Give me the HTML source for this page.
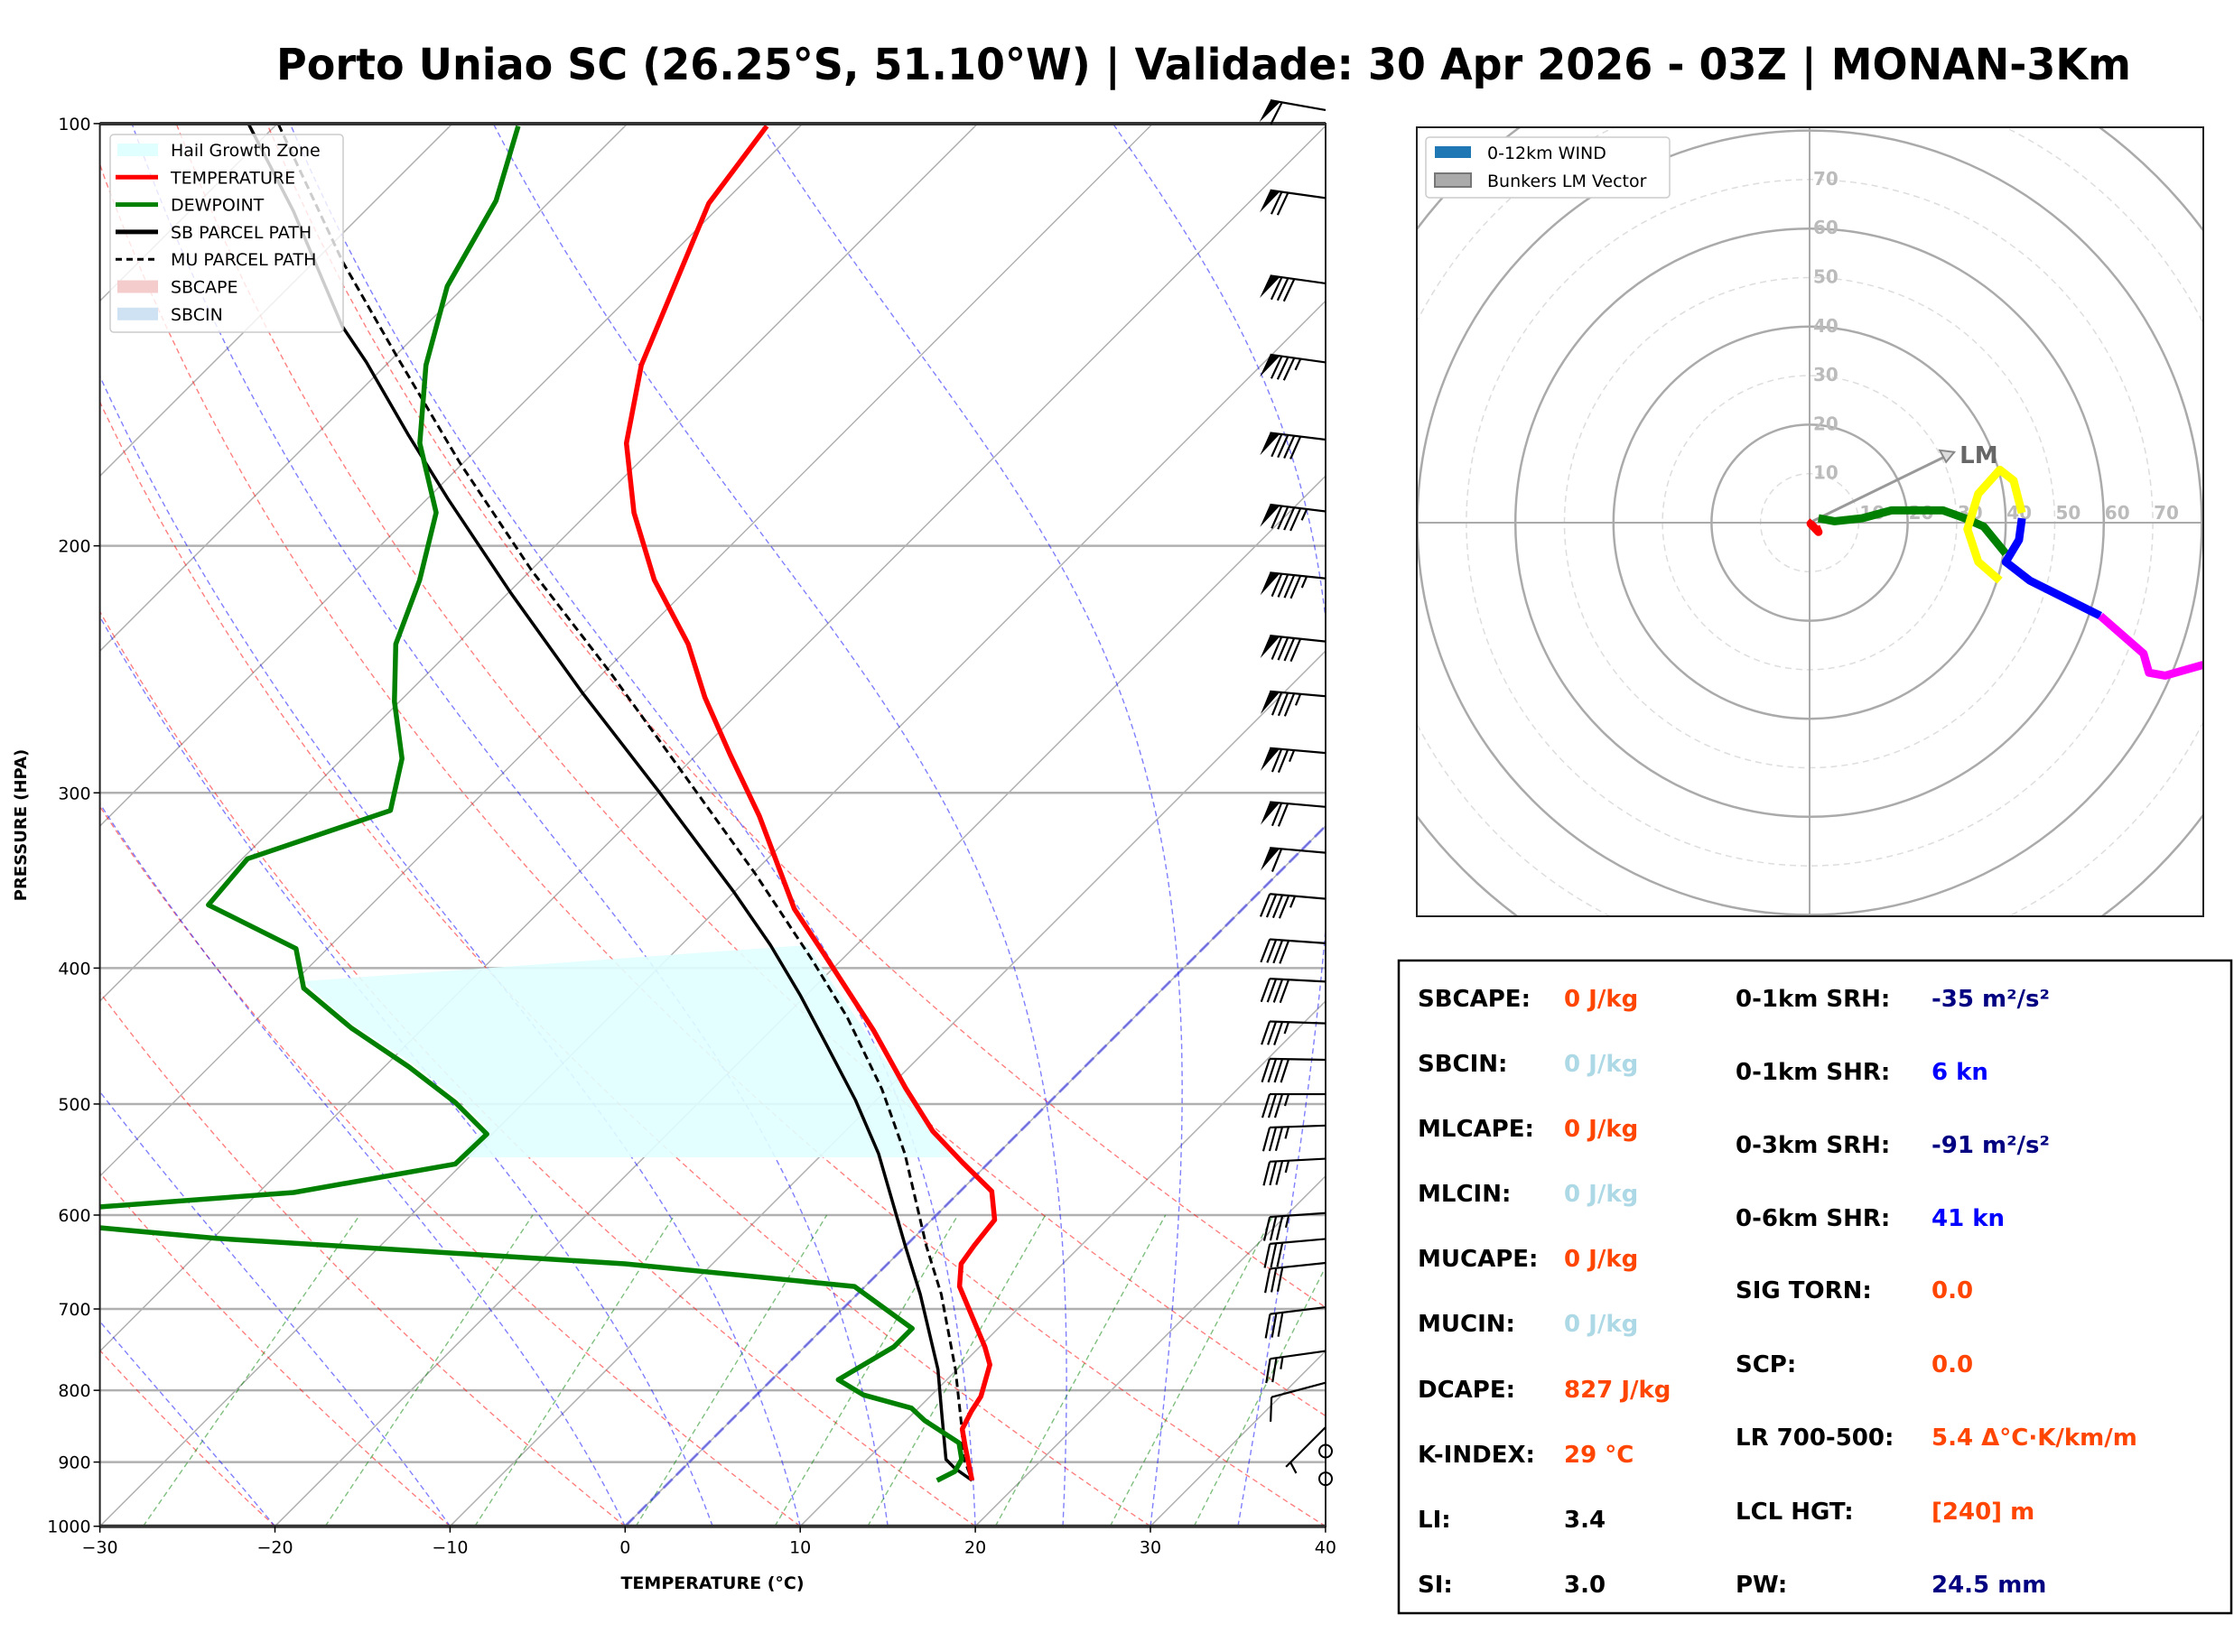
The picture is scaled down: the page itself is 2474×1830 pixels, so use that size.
<!DOCTYPE html>
<html><head><meta charset="utf-8">
<style>
html,body{margin:0;padding:0;background:#fff;}
svg{display:block;font-family:"DejaVu Sans","Liberation Sans",sans-serif;}
</style></head>
<body>
<svg id="root" width="2474" height="1830" viewBox="0 0 2474 1830" xmlns="http://www.w3.org/2000/svg">
<rect width="2474" height="1830" fill="#fff"/>
<text x="1333" y="88" text-anchor="middle" font-size="48" font-weight="bold" textLength="2054" lengthAdjust="spacingAndGlyphs">Porto Uniao SC (26.25°S, 51.10°W) | Validade: 30 Apr 2026 - 03Z | MONAN-3Km</text>
<defs>
<clipPath id="skclip"><rect x="110.6" y="137" width="1357.4" height="1553.7"/></clipPath>
<clipPath id="hodoclip"><rect x="1569" y="141" width="871" height="874"/></clipPath>
</defs>
<g id="skew"></g>
<g id="hodo"></g>
<g id="stats"></g>
</svg>
<script>
// ---------- DATA ----------
const tempP = [100.4,114,148.7,169,189.4,211.5,235,256.5,281.7,311.7,363,389.7,443.4,487.2,522.8,550.5,577,604.7,630.8,650,674.6,745,767,808,827.6,852.5,878,927.6];
const tempT = [-71.9,-70.8,-65.4,-61.8,-57.4,-52.4,-46.8,-42.8,-38.1,-32.9,-25.6,-21.5,-14.1,-9.0,-5.0,-1.5,1.8,3.6,3.9,4.2,5.4,10.3,11.6,12.9,13.2,13.7,14.9,17.2];
const dewP = [100.4,113.5,130.6,148.7,169,189.4,211.5,235,258.2,283.6,308.8,334.3,360.6,387.4,413.4,441.4,470.4,498.8,525.3,551.7,578.2,592,600,612.6,623.4,650,674.6,722.8,744.6,786.2,806,823.7,840.5,872,896,914,927.6];
const dewT = [-86.1,-83.1,-81.0,-77.7,-73.6,-68.7,-65.8,-63.5,-60.3,-56.6,-54.3,-59.7,-59.3,-51.8,-49.1,-44.1,-38.6,-33.9,-30.3,-30.4,-38.0,-48.2,-55,-47.1,-39.8,-15.0,-0.6,5.1,5.1,3.8,6.1,9.6,11.05,14.3,15.4,15.7,15.2];
const sbP = [100.1,115.4,139.5,147.9,166.5,185.2,215.9,254.8,300.6,352.6,385.2,418.5,454.6,496.7,542.6,631.4,683.3,772.9,827.9,896,909,927.6];
const sbT = [-101.6,-94.1,-84.7,-81.3,-74.8,-68.8,-59.9,-50.0,-39.8,-30.1,-24.9,-20.3,-15.9,-11.2,-6.8,0.0,3.6,8.9,11.5,14.5,15.5,17.2];
const muP = [100.1,125.4,146.2,174.5,208.4,245.9,290.1,342.3,394.5,433.6,488,542.6,631.4,683.3,772.9,852.9,891.5,927.6];
const muT = [-99.9,-88.4,-80.0,-70.2,-59.9,-49.7,-39.8,-29.9,-21.7,-16.4,-10.3,-5.3,1.2,4.8,9.9,13.7,15.3,17.2];
const barbP = [97.8,113,130,148,168,189,211,234,256,281,307,331,357,384,409,438,465,492,518,547,598,624,649,698,750,790,850];
const barbSpd = [60,70,80,85,90,95,95,90,85,75,70,60,45,40,40,35,40,35,35,35,35,30,30,30,25,10,5];
const barbDir = [280,278,278,278,277,277,276,276,275,275,275,275,275,274,273,272,271,270,268,267,266,265,264,263,262,255,225];
const calmP = [884,925];
const xTicks = [-30,-20,-10,0,10,20,30,40];
const yTicks = [100,200,300,400,500,600,700,800,900,1000];
const hodoRedU=[0.7,0.2,1.8,1.3], hodoRedV=[0.3,-0.2,-1.9,-0.8];
const hodoGreenU=[1.8,5.1,10.7,16.7,27.2,31.7,35.5,40], hodoGreenV=[0.9,0.3,0.9,2.5,2.5,0.9,-0.8,-6.3];
const hodoYellowU=[38.8,34.4,32.2,34.4,38.8,41.6,43.3], hodoYellowV=[-11.8,-8,-1.3,5.9,10.8,8.6,2];
const hodoBlueU=[43.3,42.7,40,44.9,59.3], hodoBlueV=[0.9,-3.5,-8,-11.8,-19];
const hodoMagU=[59.3,68.1,69.2,72.5,80.3], hodoMagV=[-19,-26.7,-30.6,-31.2,-29];
const lmU=29.5, lmV=14.4;
const ringVals=[10,20,30,40,50,60,70,80,90,100];

// ---------- helpers ----------
const NS="http://www.w3.org/2000/svg";
function mk(tag, attrs, parent){const e=document.createElementNS(NS,tag);for(const k in attrs)e.setAttribute(k,attrs[k]);parent.appendChild(e);return e;}
const Y0=1690.7, PPL=674.8, X0=110.6, SX=19.39, XR=1468, YT=137;
function yP(p){return Y0-PPL*Math.log(1000/p);}
function xT(T,p){return X0+(T+30)*SX+(Y0-yP(p));}
function pathPT(P,T){return P.map((p,i)=>(i?'L':'M')+xT(T[i],p).toFixed(1)+','+yP(p).toFixed(1)).join(' ');}

const skew=document.getElementById('skew');
const bg=mk('g',{'clip-path':'url(#skclip)'},skew);



yTicks.forEach(p=>{const l=mk('line',{x1:X0,x2:XR,y1:yP(p),y2:yP(p),stroke:'#b0b0b0','stroke-width':2.5},bg);

});
for(let T=-160;T<=40;T+=10){const l=mk('line',{x1:xT(T,1000),y1:yP(1000),x2:xT(T,100),y2:yP(100),stroke:'#b0b0b0','stroke-width':1.5},bg);

}
const plist=[];for(let p=1000;p>=100;p-=10)plist.push(p);
for(let t0=-30;t0<=60;t0+=10){const d=plist.map((p,i)=>(i?'L':'M')+xT((t0+273.15)*Math.pow(p/1000,0.2857)-273.15,p).toFixed(1)+','+yP(p).toFixed(1)).join(' ');
const e=mk('path',{d:d,fill:'none',stroke:'#ff0000','stroke-opacity':0.5,'stroke-width':1.4,'stroke-dasharray':'6,4'},bg);

}
function es(Tc){return 6.112*Math.exp(17.67*Tc/(Tc+243.5));}
function dTdlnp(Tk,p){const rs=0.622*es(Tk-273.15)/(p-es(Tk-273.15));return (287.04*Tk+2.501e6*rs)/(1005.7+2.501e6*2.501e6*rs*0.622/(287.04*Tk*Tk));}
[-20,-10,0,5,10,15,20,25,30,35].forEach(t0=>{let Tk=t0+273.15,p=1000;let d='M'+xT(t0,1000).toFixed(1)+','+yP(1000).toFixed(1);
while(p>100){const dl=-0.01;const k1=dTdlnp(Tk,p);const p2=p*Math.exp(dl/2);const k2=dTdlnp(Tk+k1*dl/2,p2);Tk+=k2*dl;p=p*Math.exp(dl);d+=' L'+xT(Tk-273.15,p).toFixed(1)+','+yP(p).toFixed(1);}
const e=mk('path',{d:d,fill:'none',stroke:'#0000ff','stroke-opacity':0.5,'stroke-width':1.4,'stroke-dasharray':'6,4'},bg);

});
[0.0004,0.001,0.002,0.004,0.007,0.01,0.016,0.024,0.032].forEach(w=>{const pts=[1000,600].map(p=>{const e=p*w/(0.622+w);const l=Math.log(e/6.112);const Td=243.5*l/(17.67-l);return xT(Td,p).toFixed(1)+','+yP(p).toFixed(1);});
const e=mk('path',{d:'M'+pts[0]+' L'+pts[1],fill:'none',stroke:'#008000','stroke-opacity':0.5,'stroke-width':1.4,'stroke-dasharray':'6,4'},bg);

});
const z=mk('line',{x1:xT(0,1000),y1:yP(1000),x2:xT(0,100),y2:yP(100),stroke:'#0000ff','stroke-opacity':0.4,'stroke-width':3,'stroke-dasharray':'14,6'},bg);


const hgz=mk('polygon',{points:'336,1087 893,1047 1054,1282 507,1282 538,1248 501,1212 452,1175 388,1133',fill:'#e0ffff','fill-opacity':0.9},bg);


const sb=mk('path',{d:pathPT(sbP,sbT),fill:'none',stroke:'#000','stroke-width':3.5,'stroke-linejoin':'round'},bg);


const mu=mk('path',{d:pathPT(muP,muT),fill:'none',stroke:'#000','stroke-width':3,'stroke-dasharray':'9,5'},bg);


const tl=mk('path',{d:pathPT(tempP,tempT),fill:'none',stroke:'#ff0000','stroke-width':5.5,'stroke-linejoin':'round'},bg);


const dl=mk('path',{d:pathPT(dewP,dewT),fill:'none',stroke:'#008000','stroke-width':5.5,'stroke-linejoin':'round'},bg);



const fr=mk('rect',{x:X0,y:YT,width:XR-X0,height:Y0-YT,fill:'none',stroke:'#222','stroke-width':2},skew);


mk('line',{x1:X0,x2:XR,y1:YT,y2:YT,stroke:'#333','stroke-width':4},skew);
mk('line',{x1:X0,x2:XR,y1:Y0,y2:Y0,stroke:'#333','stroke-width':4},skew);
yTicks.forEach(p=>{mk('line',{x1:X0-7,x2:X0,y1:yP(p),y2:yP(p),stroke:'#000','stroke-width':1.5},skew);
const t=mk('text',{x:X0-10,y:yP(p)+7,'text-anchor':'end','font-size':19},skew);t.textContent=p;

});
xTicks.forEach(T=>{const x=X0+(T+30)*SX;mk('line',{x1:x,x2:x,y1:Y0,y2:Y0+7,stroke:'#000','stroke-width':1.5},skew);
const t=mk('text',{x:x,y:Y0+30,'text-anchor':'middle','font-size':19},skew);t.textContent=(T<0?'\u2212'+(-T):T);

});
const xl=mk('text',{x:789,y:1760,'text-anchor':'middle','font-size':19,'font-weight':'bold'},skew);xl.textContent='TEMPERATURE (°C)';


const yl=mk('text',{x:0,y:0,'text-anchor':'middle','font-size':18,'font-weight':'bold',transform:'translate(29,914) rotate(-90)'},skew);yl.textContent='PRESSURE (HPA)';



function barb(y,spd,dir){const g=mk('g',{},skew);


const r=dir*Math.PI/180;const sx=Math.sin(r),sy=-Math.cos(r);const L=62;
const tx=XR+sx*L,ty=y+sy*L;
mk('line',{x1:XR,y1:y,x2:tx,y2:ty,stroke:'#000','stroke-width':2.2},g);
let nx=-sy,ny=sx; if(ny<0){nx=-nx;ny=-ny;}
const fl=26;let s=Math.round(spd/5)*5;let pos=0;
const fx=nx*fl+sx*8, fy=ny*fl+sy*8;
while(s>=50){const ax=tx-sx*pos,ay=ty-sy*pos;const bx=tx-sx*(pos+11),by=ty-sy*(pos+11);
mk('polygon',{points:`${ax},${ay} ${bx},${by} ${ax+fx},${ay+fy}`,fill:'#000'},g);pos+=13;s-=50;}
while(s>=10){const ax=tx-sx*pos,ay=ty-sy*pos;mk('line',{x1:ax,y1:ay,x2:ax+fx,y2:ay+fy,stroke:'#000','stroke-width':2.2},g);pos+=7;s-=10;}
if(s>=5){if(pos===0)pos=7;const ax=tx-sx*pos,ay=ty-sy*pos;mk('line',{x1:ax,y1:ay,x2:ax+fx/2,y2:ay+fy/2,stroke:'#000','stroke-width':2.2},g);}
}
barbP.forEach((p,i)=>barb(yP(p),barbSpd[i],barbDir[i]));
calmP.forEach(p=>{const c=mk('circle',{cx:XR,cy:yP(p),r:7,fill:'none',stroke:'#000','stroke-width':2},skew);

});

const lg=mk('g',{},skew);


mk('rect',{x:122,y:149,width:258,height:219,rx:4,fill:'#fff','fill-opacity':0.8,stroke:'#ccc','stroke-width':1.5},lg);
const legItems=[['Hail Growth Zone','patch','#e0ffff'],['TEMPERATURE','line','#ff0000'],['DEWPOINT','line','#008000'],['SB PARCEL PATH','line','#000'],['MU PARCEL PATH','dash','#000'],['SBCAPE','patch','#f4cccc'],['SBCIN','patch','#cfe2f3']];
legItems.forEach((it,i)=>{const y=166+i*30.3;const e=mk('g',{},lg);


if(it[1]==='patch')mk('rect',{x:130,y:y-7,width:45,height:14,fill:it[2]},e);
else mk('line',{x1:128,x2:175,y1:y,y2:y,stroke:it[2],'stroke-width':it[1]==='dash'?3:5,'stroke-dasharray':it[1]==='dash'?'7,5':'none'},e);
const t=mk('text',{x:189,y:y+7,'font-size':19},e);t.textContent=it[0];});

// ---------- HODOGRAPH ----------
const hodo=document.getElementById('hodo');
const HX=2004,HY=579,HK=5.43;
const hg=mk('g',{'clip-path':'url(#hodoclip)'},hodo);
ringVals.forEach(v=>{const c=mk('circle',{cx:HX,cy:HY,r:v*HK,fill:'none',stroke:v%20===0?'#aaa':'#ddd','stroke-width':v%20===0?2.5:1.5,'stroke-dasharray':v%20===0?'none':'7,5'},hg);

});
mk('line',{x1:1569,x2:2440,y1:HY,y2:HY,stroke:'#aaa','stroke-width':2},hg);
mk('line',{x1:HX,x2:HX,y1:141,y2:1015,stroke:'#aaa','stroke-width':2},hg);
[10,20,30,40,50,60,70].forEach(v=>{const t=mk('text',{x:HX+4,y:HY-v*HK+6,'font-size':20,'font-weight':'bold',fill:'#bbb'},hg);t.textContent=v;


const t2=mk('text',{x:HX+v*HK+1,y:HY-4,'font-size':20,'font-weight':'bold',fill:'#bbb'},hg);t2.textContent=v;

});
const lmL=mk('line',{x1:HX,y1:HY,x2:HX+lmU*HK,y2:HY-lmV*HK,stroke:'#999','stroke-width':3},hg);


const ax=HX+lmU*HK,ay=HY-lmV*HK;
mk('polygon',{points:`${ax},${ay} ${ax-16},${ay-2} ${ax-9},${ay+11}`,fill:'#ddd',stroke:'#888','stroke-width':2},hg);
const lmt=mk('text',{x:ax+6,y:ay+12,'font-size':26,'font-weight':'bold',fill:'#666'},hg);lmt.textContent='LM';


function hpath(U,V,col,name){const e=mk('path',{d:U.map((u,i)=>(i?'L':'M')+(HX+u*HK).toFixed(1)+','+(HY-V[i]*HK).toFixed(1)).join(' '),fill:'none',stroke:col,'stroke-width':9,'stroke-linejoin':'round'},hg);

}
hpath(hodoRedU,hodoRedV,'#ff0000','hodo-trace-0-1km');
hpath(hodoGreenU,hodoGreenV,'#008000','hodo-trace-1-3km');
hpath(hodoYellowU,hodoYellowV,'#ffff00','hodo-trace-3-6km');
hpath(hodoBlueU,hodoBlueV,'#0000ff','hodo-trace-6-9km');
hpath(hodoMagU,hodoMagV,'#ff00ff','hodo-trace-9-12km');
const hf=mk('rect',{x:1569,y:141,width:871,height:874,fill:'none',stroke:'#222','stroke-width':2},hodo);


const hl=mk('g',{},hodo);


mk('rect',{x:1579,y:152,width:270,height:67,rx:4,fill:'#fff',stroke:'#ccc','stroke-width':1.5},hl);
mk('rect',{x:1589,y:162,width:40,height:13,fill:'#1f77b4'},hl);
mk('rect',{x:1589,y:192,width:40,height:15,fill:'#aaa',stroke:'#777','stroke-width':2},hl);
let t=mk('text',{x:1647,y:176,'font-size':19},hl);t.textContent='0-12km WIND';
t=mk('text',{x:1647,y:207,'font-size':19},hl);t.textContent='Bunkers LM Vector';

// ---------- STATS ----------
const st=document.getElementById('stats');
const sf=mk('rect',{x:1549,y:1064,width:922,height:723,fill:'#fff',stroke:'#000','stroke-width':2.5},st);


const OR='#ff4500',LB='#add8e6',NV='#000080',BL='#0000ff';
const leftRows=[['SBCAPE:','0 J/kg',OR],['SBCIN:','0 J/kg',LB],['MLCAPE:','0 J/kg',OR],['MLCIN:','0 J/kg',LB],['MUCAPE:','0 J/kg',OR],['MUCIN:','0 J/kg',LB],['DCAPE:','827 J/kg',OR],['K-INDEX:','29 °C',OR],['LI:','3.4','#000'],['SI:','3.0','#000']];
const leftY=[1105,1177,1249,1321,1393,1465,1538,1610,1682,1754];
const rightRows=[['0-1km SRH:','-35 m²/s²',NV],['0-1km SHR:','6 kn',BL],['0-3km SRH:','-91 m²/s²',NV],['0-6km SHR:','41 kn',BL],['SIG TORN:','0.0',OR],['SCP:','0.0',OR],['LR 700-500:','5.4 Δ°C·K/km/m',OR],['LCL HGT:','[240] m',OR],['PW:','24.5 mm',NV]];
const rightY=[1105,1186,1267,1348,1428,1510,1591,1673,1754];
function row(lx,vx,y,r){const g=mk('g',{},st);


let a=mk('text',{x:lx,y:y+10,'font-size':26,'font-weight':'bold',fill:'#000'},g);a.textContent=r[0];
let b=mk('text',{x:vx,y:y+10,'font-size':26,'font-weight':'bold',fill:r[2]},g);b.textContent=r[1];}
leftRows.forEach((r,i)=>row(1570,1732,leftY[i],r));
rightRows.forEach((r,i)=>row(1922,2139,rightY[i],r));
</script>
</body></html>
